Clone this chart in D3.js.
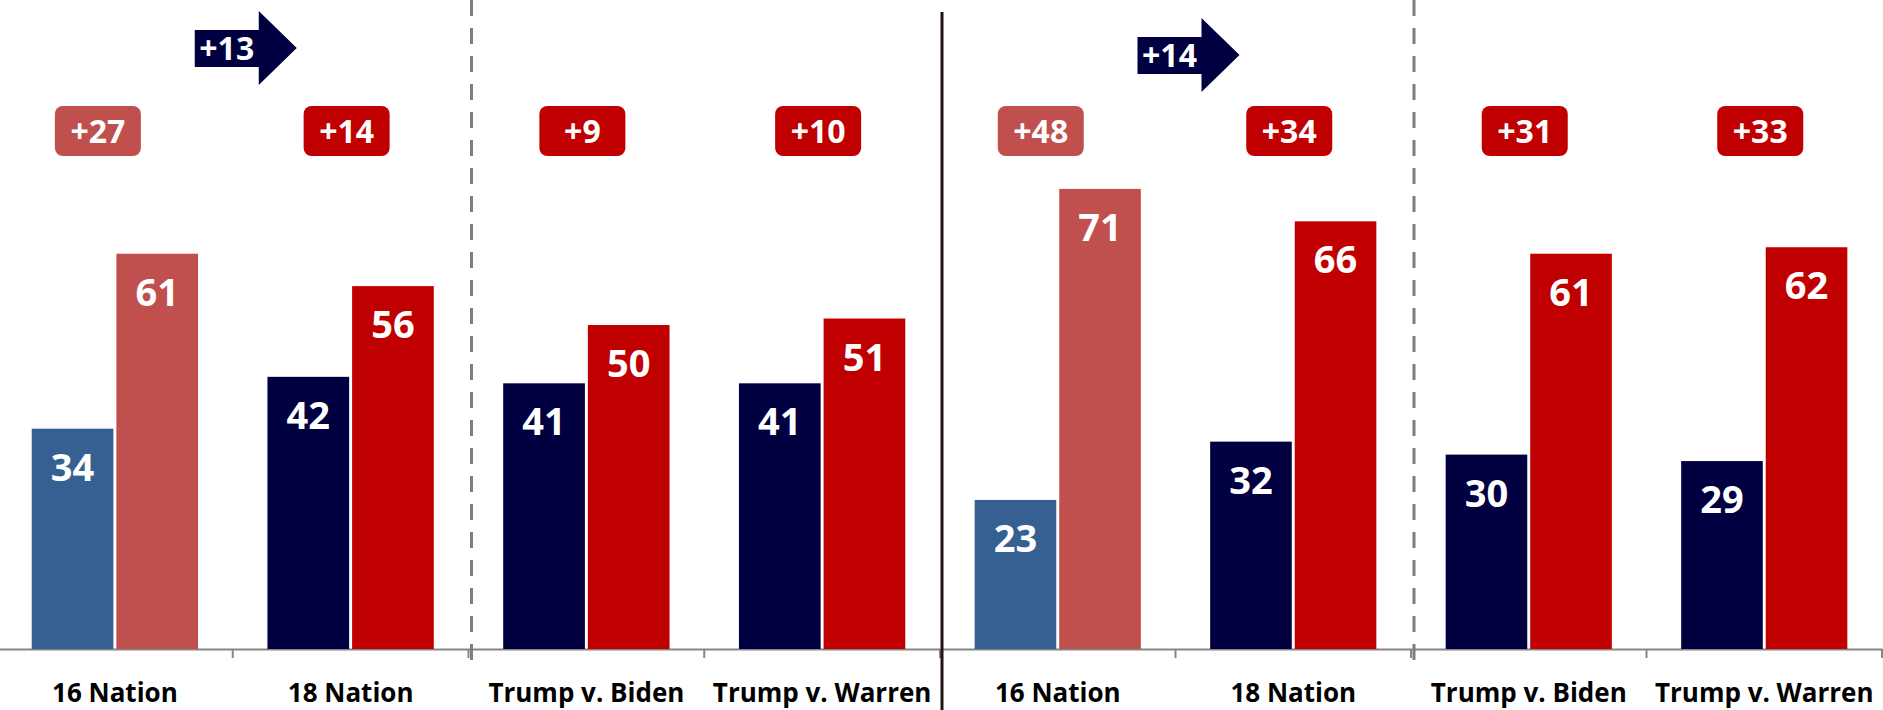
<!DOCTYPE html>
<html>
<head>
<meta charset="utf-8">
<script src="https://cdn.jsdelivr.net/npm/d3@7"></script>
<style>
  body { margin: 0; background: #fff; }
  #chart svg { display: block; }
  .cat text { font-family: "Open Sans", sans-serif; font-weight: 700; font-size: 26px; fill: #000; }
  .val { font-family: "Open Sans", sans-serif; font-weight: 700; font-size: 38px; fill: #fff; }
  .lbl { font-family: "Open Sans", sans-serif; font-weight: 700; font-size: 32px; fill: #fff; }
</style>
</head>
<body>
<div id="chart"></div>
<script>
// categories, same for both panels
var categories = ["16 Nation", "18 Nation", "Trump v. Biden", "Trump v. Warren"];

// left panel
var leftDem = [34, 42, 41, 41];
var leftRep = [61, 56, 50, 51];
var leftMargin = ["+27", "+14", "+9", "+10"];

// right panel
var rightDem = [23, 32, 30, 29];
var rightRep = [71, 66, 61, 62];
var rightMargin = ["+48", "+34", "+31", "+33"];

// shift 16 -> 18
var shifts = ["+13", "+14"];

var width = 1883, height = 710;

var svg = d3.select("#chart").append("svg")
    .attr("width", width)
    .attr("height", height);

var y = d3.scaleLinear()
    .domain([0, 100])
    .range([649, 1]);

var panels = [
  {dem: leftDem, rep: leftRep, margin: leftMargin, shift: shifts[0], range: [-3, 940], arrowY: 0},
  {dem: rightDem, rep: rightRep, margin: rightMargin, shift: shifts[1], range: [940, 1882], arrowY: 7}
];

panels.forEach(function(p) {

  var x0 = d3.scaleBand()
      .domain(categories)
      .range(p.range);

  var x1 = d3.scaleBand()
      .domain(["dem", "rep"])
      .range([0, x0.bandwidth()])
      .paddingInner(0.035)
      .paddingOuter(0.41);

  var g = svg.append("g");

  var rows = categories.map(function(c, i) {
    return {cat: c, dem: p.dem[i], rep: p.rep[i], margin: p.margin[i], old: i == 0};
  });

  // axis
  var axis = g.append("g")
      .attr("class", "cat")
      .attr("transform", "translate(0," + y(0) + ")")
      .call(d3.axisBottom(x0).tickSize(0));
  axis.select(".domain").attr("stroke", "#868686").attr("stroke-width", 2);
  axis.selectAll("text").attr("y", 53).attr("dy", 0);

  // boundary ticks
  g.selectAll(".btick")
      .data(categories.slice(1).concat(["end"]))
      .enter()
      .append("line")
      .attr("x1", function(d) { return d == "end" ? p.range[1] : x0(d); })
      .attr("x2", function(d) { return d == "end" ? p.range[1] : x0(d); })
      .attr("y1", y(0))
      .attr("y2", y(0) + 9)
      .attr("stroke", "#868686")
      .attr("stroke-width", 2);

  var grp = g.selectAll(".grp")
      .data(rows)
      .enter()
      .append("g")
      .attr("transform", function(d) { return "translate(" + x0(d.cat) + ",0)"; });

  // bars
  grp.append("rect")
      .attr("x", x1("dem"))
      .attr("width", x1.bandwidth())
      .attr("y", function(d) { return y(d.dem); })
      .attr("height", function(d) { return y(0) - y(d.dem); })
      .attr("fill", function(d) { return d.old ? "#376092" : "#000040"; });

  grp.append("rect")
      .attr("x", x1("rep"))
      .attr("width", x1.bandwidth())
      .attr("y", function(d) { return y(d.rep); })
      .attr("height", function(d) { return y(0) - y(d.rep); })
      .attr("fill", function(d) { return d.old ? "#C0504D" : "#C00000"; });

  // values
  grp.append("text")
      .attr("class", "val")
      .attr("text-anchor", "middle")
      .attr("x", x1("dem") + x1.bandwidth() / 2)
      .attr("y", function(d) { return y(d.dem) + 52; })
      .text(function(d) { return d.dem; });

  grp.append("text")
      .attr("class", "val")
      .attr("text-anchor", "middle")
      .attr("x", x1("rep") + x1.bandwidth() / 2)
      .attr("y", function(d) { return y(d.rep) + 52; })
      .text(function(d) { return d.rep; });

  // margin boxes
  var cx = function(d) { return x0.bandwidth() / 2 - (d.old ? 17 : 4); };

  grp.append("rect")
      .attr("x", function(d) { return cx(d) - 43; })
      .attr("y", 106)
      .attr("width", 86)
      .attr("height", 50)
      .attr("rx", 8)
      .attr("fill", function(d) { return d.old ? "#C0504D" : "#C00000"; });

  grp.append("text")
      .attr("class", "lbl")
      .attr("text-anchor", "middle")
      .attr("x", cx)
      .attr("y", 143)
      .text(function(d) { return d.margin; });

  // shift arrow between 16 and 18
  var bx = x0(categories[1]), ay = p.arrowY;
  g.append("path")
      .attr("d", "M" + (bx - 38) + "," + (ay + 30) +
                 "H" + (bx + 26) + "V" + (ay + 11) +
                 "L" + (bx + 64) + "," + (ay + 48) +
                 "L" + (bx + 26) + "," + (ay + 85) +
                 "V" + (ay + 67) + "H" + (bx - 38) + "Z")
      .attr("fill", "#000040");

  g.append("text")
      .attr("class", "lbl")
      .attr("text-anchor", "middle")
      .attr("x", bx - 6)
      .attr("y", ay + 60)
      .text(p.shift);

  // dashed divider before the head-to-heads
  g.append("line")
      .attr("x1", x0(categories[2]) + 3)
      .attr("x2", x0(categories[2]) + 3)
      .attr("y1", 0)
      .attr("y2", 663)
      .attr("stroke", "#7f7f7f")
      .attr("stroke-width", 3)
      .attr("stroke-dasharray", "16,12");
});

// solid divider between panels
svg.append("line")
    .attr("x1", 942)
    .attr("x2", 942)
    .attr("y1", 12)
    .attr("y2", height)
    .attr("stroke", "#1f1410")
    .attr("stroke-width", 3);
</script>
</body>
</html>
